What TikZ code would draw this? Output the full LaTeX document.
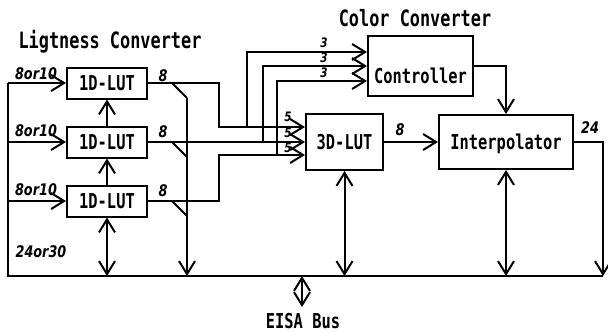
\documentclass[tikz,border=0pt]{standalone}
\usepackage{fontspec}
\setmainfont{DejaVu Sans Mono}[FakeStretch=0.75]
\newfontfamily\numfont{DejaVu Sans}[FakeStretch=0.8]
\usetikzlibrary{arrows.meta}

\tikzset{
  txt/.style={font=\fontsize{20.5}{20.5}\selectfont\bfseries},
  blk/.style={txt, draw, line width=2pt, text depth=0pt},
  num/.style={font=\fontsize{16}{16}\numfont\bfseries\itshape, inner sep=0pt},
  sml/.style={num, font=\fontsize{13}{13}\numfont\bfseries\itshape},
  ttl/.style={font=\fontsize{22.5}{22.5}\selectfont\bfseries, anchor=base},
}

\begin{document}
\begin{tikzpicture}[x=1pt, y=-1pt, line width=2pt, >={Straight Barb[length=13pt,width=16pt]}]
    \useasboundingbox (0,0) rectangle (608,332);
    % lightness converter
    \foreach \n/\y in {A/83,B/142,C/201}
        \node[blk, minimum width=80pt, minimum height=31pt] (lut\n) at (107,\y) {1D-LUT};
    \node[ttl] (lctitle) at (110,48) {Ligtness Converter};
    % color converter
    \node[blk, minimum width=105pt, minimum height=60pt, text height=35pt] (ctrl) at (420.5,66) {Controller};
    \node[blk, minimum width=77pt, minimum height=56pt] (tdlut) at (344.5,142) {3D-LUT};
    \node[blk, minimum width=134pt, minimum height=54pt] (interp) at (506,142) {Interpolator};
    \node[ttl] (cctitle) at (415,27) {Color Converter};
    % bus
    \coordinate (busL) at (8,276);
    \coordinate (busR) at (603,276);
    \coordinate (eisa) at (302,307);
    \draw (lutA.west -| busL) -- (busL) -- (busR);
    \foreach \n in {A,B,C}
        \draw[->] (lut\n.west -| busL) -- (lut\n.west);
    \draw[->] (lutB.north) -- (lutA.south);
    \draw[->] (lutC.north) -- (lutB.south);
    \draw[<->] (lutC.south) -- (lutC.south |- busL);
    % taps to the bus
    \coordinate (tapTop) at (187,98);
    \draw[->] (tapTop) -- (tapTop |- busL);
    \foreach \y in {83,142,201}
        \draw (172,\y) -- ++(15,15);
    % lut outputs
    \coordinate (jA) at (247,127);
    \coordinate (jB) at (263,142);
    \coordinate (jC) at (277,155);
    \draw[->] (lutA.east) -- ++(71,0) |- (jA) -- (jA -| tdlut.west);
    \draw[->] (lutB.east) -- (lutB.east -| tdlut.west);
    \draw[->] (lutC.east) -- ++(71,0) |- (jC) -- (jC -| tdlut.west);
    \draw[->] (jA) |- ([yshift=14pt]ctrl.west);
    \draw[->] (jB) |- (ctrl.west);
    \draw[->] (jC) |- ([yshift=-15pt]ctrl.west);
    \draw[->] (ctrl.east) -| (interp.north);
    \draw[->] (tdlut) -- (interp);
    \draw[->] (interp.east) -| (busR);
    \draw[<->] (tdlut.south) -- (tdlut.south |- busL);
    \draw[<->] (interp.south) -- (interp.south |- busL);
    \draw[<->] (eisa |- busL) -- (eisa);
    \node[txt, anchor=base] (eisalbl) at (303,328) {EISA Bus};
    % widths
    \foreach \n/\y in {A/74,B/131,C/190}
        \node[num] (in\n) at (36,\y) {8or10};
    \foreach \n/\y in {A/76,B/132,C/191}
        \node[num] (out\n) at (163,\y) {8};
    \foreach \n/\y in {A/43,B/58,C/73}
        \node[sml] (cin\n) at (324,\y) {3};
    \foreach \n/\y in {A/117,B/133,C/148}
        \node[sml] (din\n) at (288,\y) {5};
    \node[num] (tdout) at (400,130) {8};
    \node[num] (ipout) at (590,128) {24};
    \node[num] (buswd) at (41,252) {24or30};
\end{tikzpicture}
\end{document}
